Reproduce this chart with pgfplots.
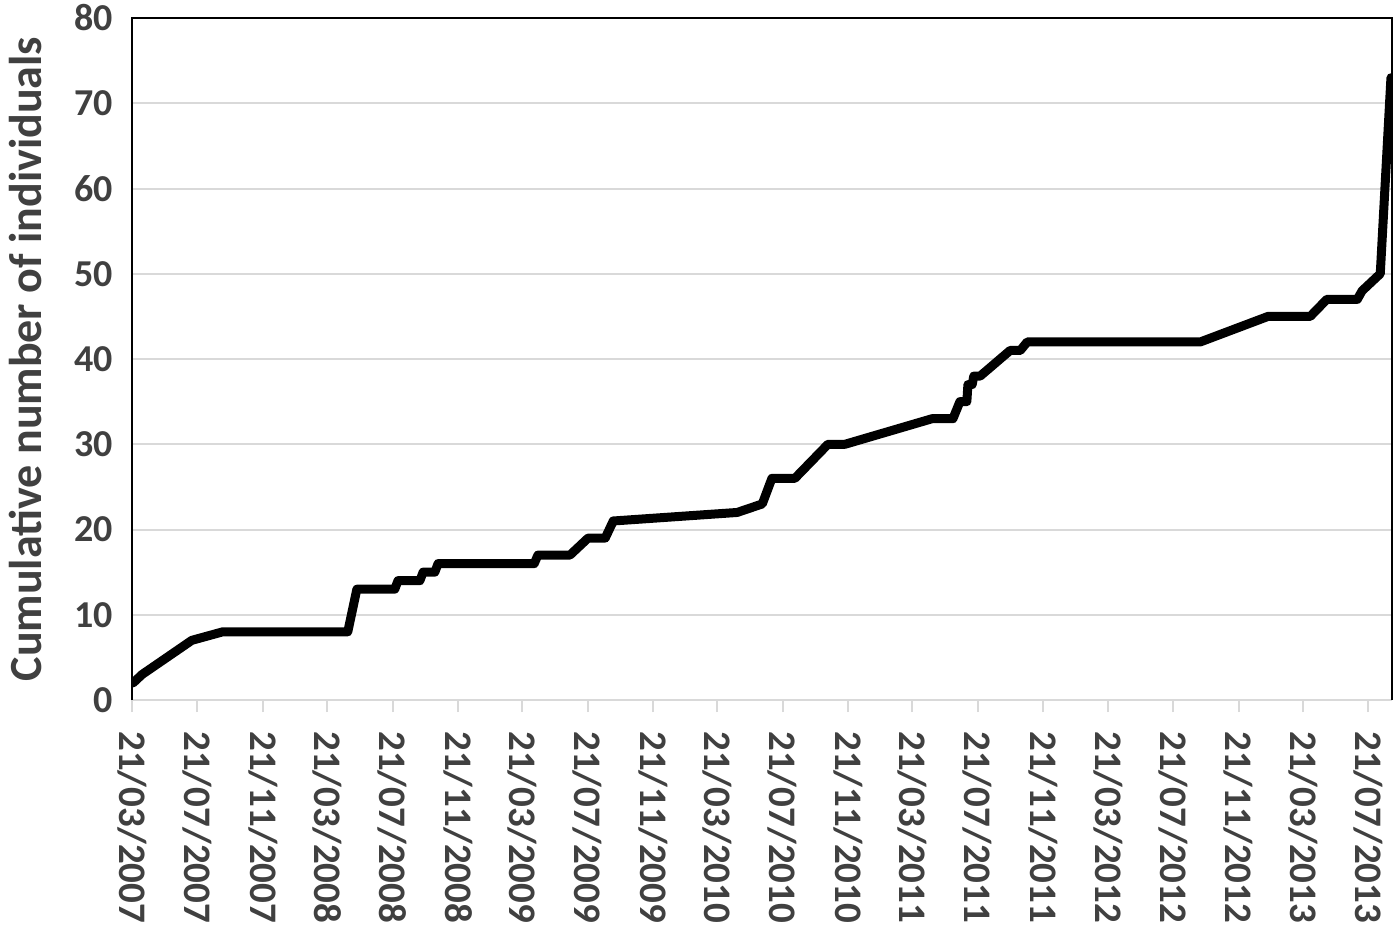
\documentclass[border=0pt]{standalone}
\usepackage{pgfplots}
\pgfplotsset{compat=1.18}
\usepackage{fontspec}
\setmainfont{Carlito}
\definecolor{txt}{RGB}{64,64,64}
\definecolor{gridc}{RGB}{217,217,217}
\begin{document}
\begin{tikzpicture}
\begin{axis}[
  at={(0,0)}, anchor=south west,
  scale only axis,
  width=630pt, height=341pt,
  xmin=0, xmax=2359, ymin=0, ymax=80,
  axis line style={draw=none},
  ymajorgrids, grid style={gridc, line width=1pt},
  ytick={0,10,...,80},
  ytick style={draw=none},
  xtick={0,122,245,366,488,611,731,853,976,1096,1218,1341,1461,1583,1706,1827,1949,2072,2192,2314},
  xticklabels={21/03/2007,21/07/2007,21/11/2007,21/03/2008,21/07/2008,21/11/2008,21/03/2009,21/07/2009,21/11/2009,21/03/2010,21/07/2010,21/11/2010,21/03/2011,21/07/2011,21/11/2011,21/03/2012,21/07/2012,21/11/2012,21/03/2013,21/07/2013},
  xtick pos=bottom, ytick pos=left,
  tick align=outside, major tick length=6pt,
  xtick style={draw=gridc, line width=1pt},
  ticklabel style={font=\bfseries\fontsize{19}{19}\selectfont, text=txt},
  x tick label style={font=\bfseries\fontsize{19.5}{19.5}\selectfont, rotate=-90, anchor=west, inner xsep=9.5pt},
  /pgf/number format/assume math mode=true,
  ylabel={Cumulative number of individuals},
  ylabel style={font=\bfseries\fontsize{23}{23}\selectfont, text=txt, at={(axis description cs:-0.0845,0.5)}, anchor=center, rotate=0},
  after end axis/.code={
    \draw[black, line width=1pt] (rel axis cs:0,0) -- (rel axis cs:0,1) -- (rel axis cs:1,1) -- (rel axis cs:1,0);
  },
]
\addplot[black, line width=4.5pt, line join=round, line cap=round] coordinates {
(2,2) (19,3) (112,7) (170,8) (404,8) (421,13) (492,13) (498,14) (539,14)
(545,15) (567,15) (573,16) (753,16) (760,17) (820,17) (854,19) (886,19)
(901,21) (1133,22) (1180,23) (1198,26) (1241,26) (1303,30) (1335,30)
(1498,33) (1537,33) (1550,35) (1563,35) (1565,37) (1573,37) (1576,38)
(1588,38) (1644,41) (1663,41) (1676,42) (2000,42) (2127,45) (2206,45)
(2237,47) (2294,47) (2303,48) (2337,50) (2357,73)
};
\end{axis}
\pgfresetboundingbox
\path (-66pt,-113pt) rectangle (634pt,350pt);
\end{tikzpicture}
\end{document}
